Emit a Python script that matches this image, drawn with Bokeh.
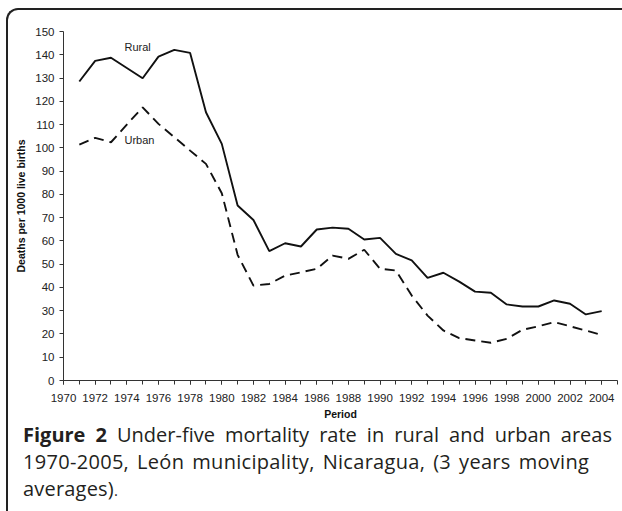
from bokeh.plotting import figure
from bokeh.models import Label, FixedTicker, Range1d, ColumnDataSource, Div
from bokeh.layouts import column
from bokeh.embed import file_html
from bokeh.resources import INLINE

years = [1971, 1972, 1973, 1974, 1975, 1976, 1977, 1978, 1979, 1980,
         1981, 1982, 1983, 1984, 1985, 1986, 1987, 1988, 1989, 1990,
         1991, 1992, 1993, 1994, 1995, 1996, 1997, 1998, 1999, 2000,
         2001, 2002, 2003, 2004]
rural = [128.5, 137.4, 138.7, 134.3, 129.9, 139.2, 142.1, 140.8, 115.3, 101.7,
         75.2, 69.0, 55.6, 59.0, 57.6, 64.9, 65.7, 65.2, 60.6, 61.3,
         54.4, 51.6, 44.1, 46.3, 42.5, 38.2, 37.7, 32.7, 31.8, 31.8,
         34.4, 33.0, 28.4, 29.8]
urban = [101.4, 104.3, 102.4, 110.0, 117.4, 110.3, 104.6, 98.8, 93.1, 80.5,
         54.0, 40.8, 41.5, 45.1, 46.5, 48.0, 53.7, 52.3, 56.2, 48.0,
         47.3, 36.5, 27.9, 21.5, 18.2, 17.2, 16.2, 17.9, 21.8, 23.3,
         25.1, 23.3, 21.5, 19.6]

x_label_ticks = [1970, 1972, 1974, 1976, 1978, 1980, 1982, 1984, 1986, 1988,
                 1990, 1992, 1994, 1996, 1998, 2000, 2002, 2004]
x_all_ticks = [1970, 1971, 1972, 1973, 1974, 1975, 1976, 1977, 1978, 1979,
               1980, 1981, 1982, 1983, 1984, 1985, 1986, 1987, 1988, 1989,
               1990, 1991, 1992, 1993, 1994, 1995, 1996, 1997, 1998, 1999,
               2000, 2001, 2002, 2003, 2004, 2005]
y_ticks = [0, 10, 20, 30, 40, 50, 60, 70, 80, 90, 100, 110, 120, 130, 140, 150]

series_labels = ["Rural", "Urban"]
caption_bold = "Figure 2"
caption_line1 = "Under-five mortality rate in rural and urban areas"
caption_line2 = "1970-2005, León municipality, Nicaragua, (3 years moving"
caption_line3 = "averages)"

src = ColumnDataSource(dict(year=years, rural=rural, urban=urban))

p = figure(width=614, height=416, output_backend="svg", toolbar_location=None,
           x_range=Range1d(1970, 2005), y_range=Range1d(0, 150),
           min_border_left=55, min_border_right=5, min_border_top=21,
           min_border_bottom=46, margin=0)
p.grid.visible = False
p.outline_line_color = None
p.background_fill_color = "white"
p.border_fill_color = None

axis_col = "#333333"
tick_font = "Liberation Sans"

p.xaxis.ticker = FixedTicker(ticks=x_label_ticks, minor_ticks=x_all_ticks)
p.yaxis.ticker = FixedTicker(ticks=y_ticks, minor_ticks=[])
for ax in (p.xaxis[0], p.yaxis[0]):
    ax.axis_line_color = axis_col
    ax.major_tick_line_color = axis_col
    ax.minor_tick_line_color = axis_col
    ax.major_tick_in = 0
    ax.major_tick_out = 4
    ax.minor_tick_in = 0
    ax.minor_tick_out = 4
    ax.major_label_text_font = tick_font
    ax.major_label_text_font_size = "11.5px"
    ax.major_label_text_color = "#222222"
    ax.axis_label_text_font = tick_font
    ax.axis_label_text_font_style = "bold"
    ax.axis_label_text_font_size = "10.5px"
    ax.axis_label_text_color = "#111111"
p.xaxis.major_label_standoff = 9
p.yaxis.major_label_standoff = 5
p.xaxis.axis_label = "Period"
p.yaxis.axis_label = "Deaths per 1000 live births"
p.xaxis.axis_label_standoff = 3
p.yaxis.axis_label_standoff = 5

p.line("year", "rural", source=src, line_color="#111111", line_width=1.9)
p.line("year", "urban", source=src, line_color="#111111", line_width=1.9,
       line_dash="10 6")

p.add_layout(Label(x=1973.85, y=143.5, text=series_labels[0], text_baseline="middle",
                   text_font=tick_font, text_font_size="11px", text_color="#222222"))
p.add_layout(Label(x=1973.85, y=103.2, text=series_labels[1], text_baseline="middle",
                   text_font=tick_font, text_font_size="11px", text_color="#222222"))

caption_html = (
    '<div style="position:relative; top:-5px; margin-left:15px; width:589px; '
    'font-family:\'Open Sans\', sans-serif; font-size:20px; line-height:27px; color:#231f20;">'
    '<div style="text-align:justify; text-align-last:justify;">'
    '<b>' + caption_bold + '</b> ' + caption_line1 + '</div>'
    '<div style="letter-spacing:0.3px; word-spacing:2.5px;">' + caption_line2 + '</div>'
    '<div style="letter-spacing:0.2px;">' + caption_line3
    + '<span style="font-size:15px;">.</span></div>'
    '</div>'
)
cap = Div(text=caption_html, width=614, height=85, margin=0)

root = column(p, cap, spacing=0, margin=0,
              styles={"border-top": "2px solid #222222",
                      "border-left": "2px solid #222222",
                      "border-top-left-radius": "12px",
                      "margin-left": "6px", "margin-top": "8px"})

open("out.html", "w").write(file_html(root, INLINE))
